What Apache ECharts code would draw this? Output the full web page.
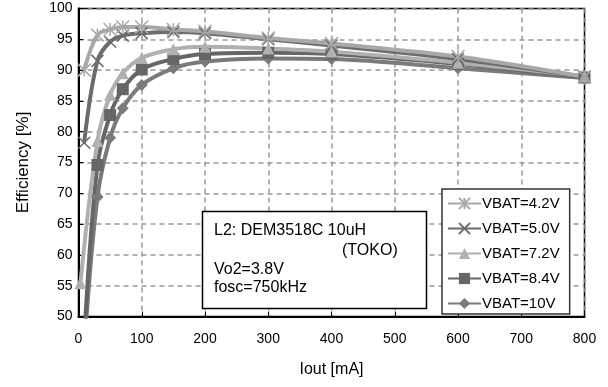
<!DOCTYPE html>
<html>
<head>
<meta charset="utf-8">
<script src="https://cdn.jsdelivr.net/npm/echarts@6/dist/echarts.min.js"></script>
<style>
  html, body { margin: 0; padding: 0; background: #fff; }
  #chart { width: 608px; height: 387px; }
</style>
</head>
<body>
<div id="chart"></div>
<script>
// 読み取った値 (Iout [mA], Efficiency [%])
const names = ["VBAT=4.2V", "VBAT=5.0V", "VBAT=7.2V", "VBAT=8.4V", "VBAT=10V"];
const v42 = [[9, 90], [30, 95.7], [50, 96.6], [70, 97], [100, 97], [150, 96.6], [200, 96.3], [300, 95.2], [400, 94.3], [600, 92.2], [800, 88.9]];
const v50 = [[9, 78.2], [30, 91.5], [50, 94.6], [70, 95.6], [100, 96], [150, 96.2], [200, 96], [300, 95], [400, 94], [600, 91.8], [800, 88.9]];
const v72 = [[3, 55.4], [30, 78.5], [50, 86], [70, 89.5], [100, 92], [150, 93.4], [200, 93.8], [300, 93.5], [400, 93], [600, 91.2], [800, 89]];
const v84 = [[10, 48], [30, 74.6], [50, 82.7], [70, 86.9], [100, 90.1], [150, 91.8], [200, 92.6], [300, 92.8], [400, 92.6], [600, 91], [800, 88.8]];
const v10 = [[10, 46], [30, 69.4], [50, 79], [70, 83.8], [100, 87.6], [150, 90.3], [200, 91.4], [300, 91.9], [400, 91.8], [600, 90.3], [800, 88.7]];
const noteLines = ["L2: DEM3518C 10uH", "(TOKO)", "Vo2=3.8V", "fosc=750kHz"];

const font = "Liberation Sans, Arial, sans-serif";
const starPath = "path://M0,0L10,10M10,0L0,10M5,0L5,10";
const crossPath = "path://M0,0L10,10M10,0L0,10";

function line(name, data, color, symbol, size, open) {
  return {
    name: name,
    type: "line",
    data: data,
    smooth: 0.35,
    clip: true,
    symbol: symbol,
    symbolSize: size,
    lineStyle: { color: color, width: 4 },
    itemStyle: open
      ? { color: "rgba(0,0,0,0)", borderColor: color, borderWidth: 1.5 }
      : { color: color },
    emphasis: { disabled: true }
  };
}

const myChart = echarts.init(document.getElementById("chart"));
myChart.setOption({
  animation: false,
  textStyle: { fontFamily: font },
  grid: {
    left: 78.5, right: 23.5, top: 8.5, bottom: 70.5,
    show: true, borderColor: "#000", borderWidth: 1.5, backgroundColor: "#fff"
  },
  xAxis: {
    type: "value",
    min: 0, max: 800, interval: 100,
    name: "Iout [mA]",
    nameLocation: "middle",
    nameGap: 45,
    nameTextStyle: { color: "#000", fontSize: 16, fontFamily: font },
    axisLine: { lineStyle: { color: "#000", width: 2 } },
    axisTick: { inside: true, length: 5, lineStyle: { color: "#000" } },
    axisLabel: { color: "#000", fontSize: 14, margin: 16, fontFamily: font },
    splitLine: { show: true, lineStyle: { color: "#999", type: [5, 4], width: 1.5 } }
  },
  yAxis: {
    type: "value",
    min: 50, max: 100, interval: 5,
    name: "Efficiency [%]",
    nameLocation: "middle",
    nameRotate: 90,
    nameGap: 47,
    nameTextStyle: { color: "#000", fontSize: 17, fontFamily: font },
    axisLine: { show: true, lineStyle: { color: "#000", width: 2 } },
    axisTick: { show: true, inside: true, length: 5, lineStyle: { color: "#000" } },
    axisLabel: { color: "#000", fontSize: 14, margin: 6, fontFamily: font },
    splitLine: { show: true, lineStyle: { color: "#999", type: [5, 4], width: 1.5 } }
  },
  legend: {
    orient: "vertical",
    left: 442, top: 189,
    data: names,
    itemWidth: 33, itemHeight: 14, itemGap: 10,
    padding: [7, 10, 3, 5],
    borderColor: "#333", borderWidth: 1.5,
    backgroundColor: "#fff",
    textStyle: { color: "#000", fontSize: 15, fontFamily: font, padding: [0, 0, 0, -4] }
  },
  graphic: [
    {
      type: "rect",
      z: 100,
      shape: { x: 202.5, y: 211.5, width: 224, height: 97 },
      style: { fill: "#fff", stroke: "#000", lineWidth: 1.5 }
    },
    { type: "text", z: 101, left: 214, top: 223, style: { text: noteLines[0], font: "16px " + font, fill: "#000" } },
    { type: "text", z: 101, left: 342, top: 243, style: { text: noteLines[1], font: "16px " + font, fill: "#000" } },
    { type: "text", z: 101, left: 214, top: 262, style: { text: noteLines[2], font: "16px " + font, fill: "#000" } },
    { type: "text", z: 101, left: 214, top: 280, style: { text: noteLines[3], font: "16px " + font, fill: "#000" } }
  ],
  series: [
    line(names[4], v10, "#7a7a7a", "diamond", 12, false),
    line(names[3], v84, "#666666", "rect", 12, false),
    line(names[2], v72, "#b0b0b0", "triangle", 12, false),
    line(names[1], v50, "#6c6c6c", crossPath, 12, true),
    line(names[0], v42, "#a8a8a8", starPath, 13, true)
  ]
});
</script>
</body>
</html>
